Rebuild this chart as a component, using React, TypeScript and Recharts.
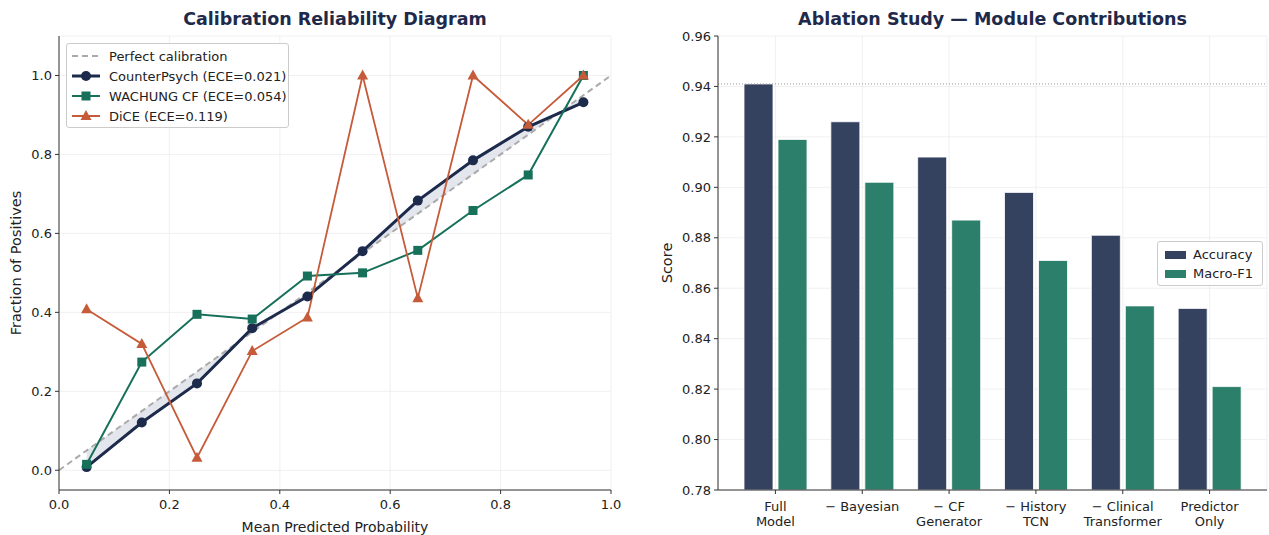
import React from 'react';
import { ComposedChart, Line, Area, Bar, XAxis, YAxis, CartesianGrid, ReferenceLine } from 'recharts';

// calibration bins (mean predicted probability)
const bins = [0.05, 0.15, 0.25, 0.35, 0.45, 0.55, 0.65, 0.75, 0.85, 0.95];
const counterPsych = [0.008, 0.121, 0.22, 0.36, 0.44, 0.555, 0.683, 0.785, 0.87, 0.932];
const wachung = [0.015, 0.274, 0.395, 0.383, 0.492, 0.5, 0.557, 0.658, 0.748, 1.0];
const dice = [0.408, 0.32, 0.032, 0.302, 0.387, 1.0, 0.436, 1.0, 0.875, 1.0];
const diagonal = [{ p: 0, y: 0 }, { p: 1, y: 1 }];
const probTicks = [0, 0.2, 0.4, 0.6, 0.8, 1.0];
const fractionTicks = [0, 0.2, 0.4, 0.6, 0.8, 1.0];

// ablation study
const modules = ['Full\nModel', '\u2212 Bayesian', '\u2212 CF\nGenerator', '\u2212 History\nTCN', '\u2212 Clinical\nTransformer', 'Predictor\nOnly'];
const accuracy = [0.941, 0.926, 0.912, 0.898, 0.881, 0.852];
const macroF1 = [0.919, 0.902, 0.887, 0.871, 0.853, 0.821];
const scoreTicks = [0.78, 0.8, 0.82, 0.84, 0.86, 0.88, 0.9, 0.92, 0.94, 0.96];

const NAVY = '#1c2a4b';
const GREEN = '#17705a';
const ORANGE = '#c65b3a';
const TITLE = '#1f2a4a';
const FONT = '"DejaVu Sans", sans-serif';

const calData = bins.map((p, i) => ({
  p,
  cp: counterPsych[i],
  wa: wachung[i],
  di: dice[i],
  band: [p, counterPsych[i]],
}));

const ablData = modules.map((m, i) => ({ m, acc: accuracy[i], f1: macroF1[i] }));

const calLegend = [
  { name: 'Perfect calibration', color: '#aaaaaa', dash: true, marker: 'none' },
  { name: 'CounterPsych (ECE=0.021)', color: NAVY, width: 3, marker: 'circle' },
  { name: 'WACHUNG CF (ECE=0.054)', color: GREEN, width: 2, marker: 'square' },
  { name: 'DiCE (ECE=0.119)', color: ORANGE, width: 2, marker: 'triangle' },
];

const ablLegend = [
  { name: 'Accuracy', color: '#344260' },
  { name: 'Macro-F1', color: '#2c7f6b' },
];

const circleDot = (props: any) => {
  const { cx, cy, index } = props;
  if (cx == null || cy == null) return null;
  return <circle key={`c${index}`} cx={cx} cy={cy} r={5} fill={NAVY} />;
};

const squareDot = (props: any) => {
  const { cx, cy, index } = props;
  if (cx == null || cy == null) return null;
  return <rect key={`s${index}`} x={cx - 4.5} y={cy - 4.5} width={9} height={9} fill={GREEN} />;
};

const triangleDot = (props: any) => {
  const { cx, cy, index } = props;
  if (cx == null || cy == null) return null;
  return <polygon key={`t${index}`} points={`${cx},${cy - 6} ${cx - 5.5},${cy + 4} ${cx + 5.5},${cy + 4}`} fill={ORANGE} />;
};

const markerIcon = (marker: string, color: string) => {
  if (marker === 'circle') return <circle cx={15} cy={6} r={5} fill={color} />;
  if (marker === 'square') return <rect x={10.5} y={1.5} width={9} height={9} fill={color} />;
  if (marker === 'triangle') return <polygon points="15,0 9.5,10 20.5,10" fill={color} />;
  return null;
};

const ModuleTick = (props: any) => {
  const { x, y, payload } = props;
  const lines = String(payload.value).split('\n');
  return (
    <text x={x} y={y} textAnchor="middle" fontSize={13} fill="#222" fontFamily={FONT}>
      {lines.map((l, i) => (
        <tspan key={i} x={x} dy={15}>{l}</tspan>
      ))}
    </text>
  );
};

const axisText = { fontSize: 13, fill: '#222', fontFamily: FONT };
const labelSize = 14.5;

export default function App() {
  return (
    <div style={{ position: 'absolute', left: 0, top: 0, width: 1269, height: 535, background: '#fff', fontFamily: FONT }}>
      {/* left panel */}
      <div style={{ position: 'absolute', left: 0, top: 0, width: 640, height: 535 }}>
        <div style={{ position: 'absolute', left: 59, width: 552, top: 9, textAlign: 'center', fontSize: 17.5, fontWeight: 'bold', color: TITLE }}>
          Calibration Reliability Diagram
        </div>
        <ComposedChart width={640} height={535} data={calData} margin={{ top: 36, right: 29, left: 0, bottom: 0 }}>
          <CartesianGrid stroke="#ececec" strokeWidth={0.8} />
          <XAxis
            dataKey="p"
            type="number"
            domain={[0, 1]}
            ticks={probTicks}
            tickFormatter={(v: number) => v.toFixed(1)}
            height={45}
            tick={axisText}
            tickSize={4}
            tickMargin={6}
            stroke="#333"
            label={{ value: 'Mean Predicted Probability', position: 'insideBottom', offset: 3, style: { fontSize: 14, fill: '#222', fontFamily: FONT } }}
          />
          <YAxis
            type="number"
            domain={[-0.05, 1.1]}
            ticks={fractionTicks}
            tickFormatter={(v: number) => v.toFixed(1)}
            width={59}
            tick={axisText}
            tickSize={4}
            tickMargin={3}
            stroke="#333"
            allowDataOverflow
            label={{
              content: ({ viewBox }: any) => (
                <text
                  x={16}
                  y={viewBox.y + viewBox.height / 2}
                  transform={`rotate(-90 16 ${viewBox.y + viewBox.height / 2})`}
                  textAnchor="middle"
                  dominantBaseline="central"
                  fontSize={labelSize}
                  fill="#222"
                  fontFamily={FONT}
                >
                  Fraction of Positives
                </text>
              ),
            }}
          />
          <Area dataKey="band" type="linear" stroke="none" fill="#d9dce6" fillOpacity={0.7} isAnimationActive={false} dot={false} activeDot={false} />
          <Line data={diagonal} dataKey="y" type="linear" stroke="#aaaaaa" strokeWidth={2} strokeDasharray="6 4" dot={false} activeDot={false} isAnimationActive={false} />
          <Line dataKey="cp" type="linear" stroke={NAVY} strokeWidth={3} dot={circleDot} activeDot={false} isAnimationActive={false} />
          <Line dataKey="wa" type="linear" stroke={GREEN} strokeWidth={2} dot={squareDot} activeDot={false} isAnimationActive={false} />
          <Line dataKey="di" type="linear" stroke={ORANGE} strokeWidth={1.8} dot={triangleDot} activeDot={false} isAnimationActive={false} />
        </ComposedChart>
        <div
          style={{
            position: 'absolute', left: 66, top: 43, width: 223, height: 85, background: 'rgba(255,255,255,0.85)',
            border: '1px solid #cccccc', borderRadius: 3, boxSizing: 'border-box', padding: '2px 0 0 4px', fontSize: 13, color: '#222',
          }}
        >
          {calLegend.map((s) => (
            <div key={s.name} style={{ display: 'flex', alignItems: 'center', height: 20 }}>
              <svg width={30} height={12} style={{ marginRight: 8 }}>
                <line x1={1} y1={6} x2={29} y2={6} stroke={s.color} strokeWidth={s.width ?? 2} strokeDasharray={s.dash ? '6 4' : undefined} />
                {markerIcon(s.marker, s.color)}
              </svg>
              <span>{s.name}</span>
            </div>
          ))}
        </div>
      </div>

      {/* right panel */}
      <div style={{ position: 'absolute', left: 640, top: 0, width: 629, height: 535 }}>
        <div style={{ position: 'absolute', left: 78, width: 549, top: 9, textAlign: 'center', fontSize: 17.5, fontWeight: 'bold', color: TITLE }}>
          Ablation Study — Module Contributions
        </div>
        <ComposedChart width={629} height={535} data={ablData} margin={{ top: 36, right: 2, left: 0, bottom: 0 }} barGap={5}>
          <CartesianGrid stroke="#ececec" strokeWidth={0.8} />
          <XAxis
            dataKey="m"
            height={45}
            padding={{ left: 14, right: 14 }}
            tick={<ModuleTick />}
            interval={0}
            tickSize={4}
            tickMargin={2}
            stroke="#333"
          />
          <YAxis
            type="number"
            domain={[0.78, 0.96]}
            ticks={scoreTicks}
            tickFormatter={(v: number) => v.toFixed(2)}
            width={78}
            tick={axisText}
            tickSize={4}
            tickMargin={3}
            stroke="#333"
            allowDataOverflow
            label={{
              content: ({ viewBox }: any) => (
                <text
                  x={27}
                  y={viewBox.y + viewBox.height / 2}
                  transform={`rotate(-90 27 ${viewBox.y + viewBox.height / 2})`}
                  textAnchor="middle"
                  dominantBaseline="central"
                  fontSize={labelSize}
                  fill="#222"
                  fontFamily={FONT}
                >
                  Score
                </text>
              ),
            }}
          />
          <ReferenceLine y={accuracy[0]} stroke="#9a9a9a" strokeWidth={1} strokeDasharray="1 2" />
          <Bar dataKey="acc" name="Accuracy" fill="#344260" stroke="#ffffff" strokeWidth={0.8} barSize={29} isAnimationActive={false} />
          <Bar dataKey="f1" name="Macro-F1" fill="#2c7f6b" stroke="#ffffff" strokeWidth={0.8} barSize={29} isAnimationActive={false} />
        </ComposedChart>
        <div
          style={{
            position: 'absolute', left: 517, top: 241, width: 106, height: 45, background: 'rgba(255,255,255,0.85)',
            border: '1px solid #cccccc', borderRadius: 3, boxSizing: 'border-box', padding: '3px 0 0 7px', fontSize: 13, color: '#222',
          }}
        >
          {ablLegend.map((s) => (
            <div key={s.name} style={{ display: 'flex', alignItems: 'center', height: 19 }}>
              <div style={{ width: 21, height: 8, background: s.color, marginRight: 7 }} />
              <span>{s.name}</span>
            </div>
          ))}
        </div>
      </div>
    </div>
  );
}
